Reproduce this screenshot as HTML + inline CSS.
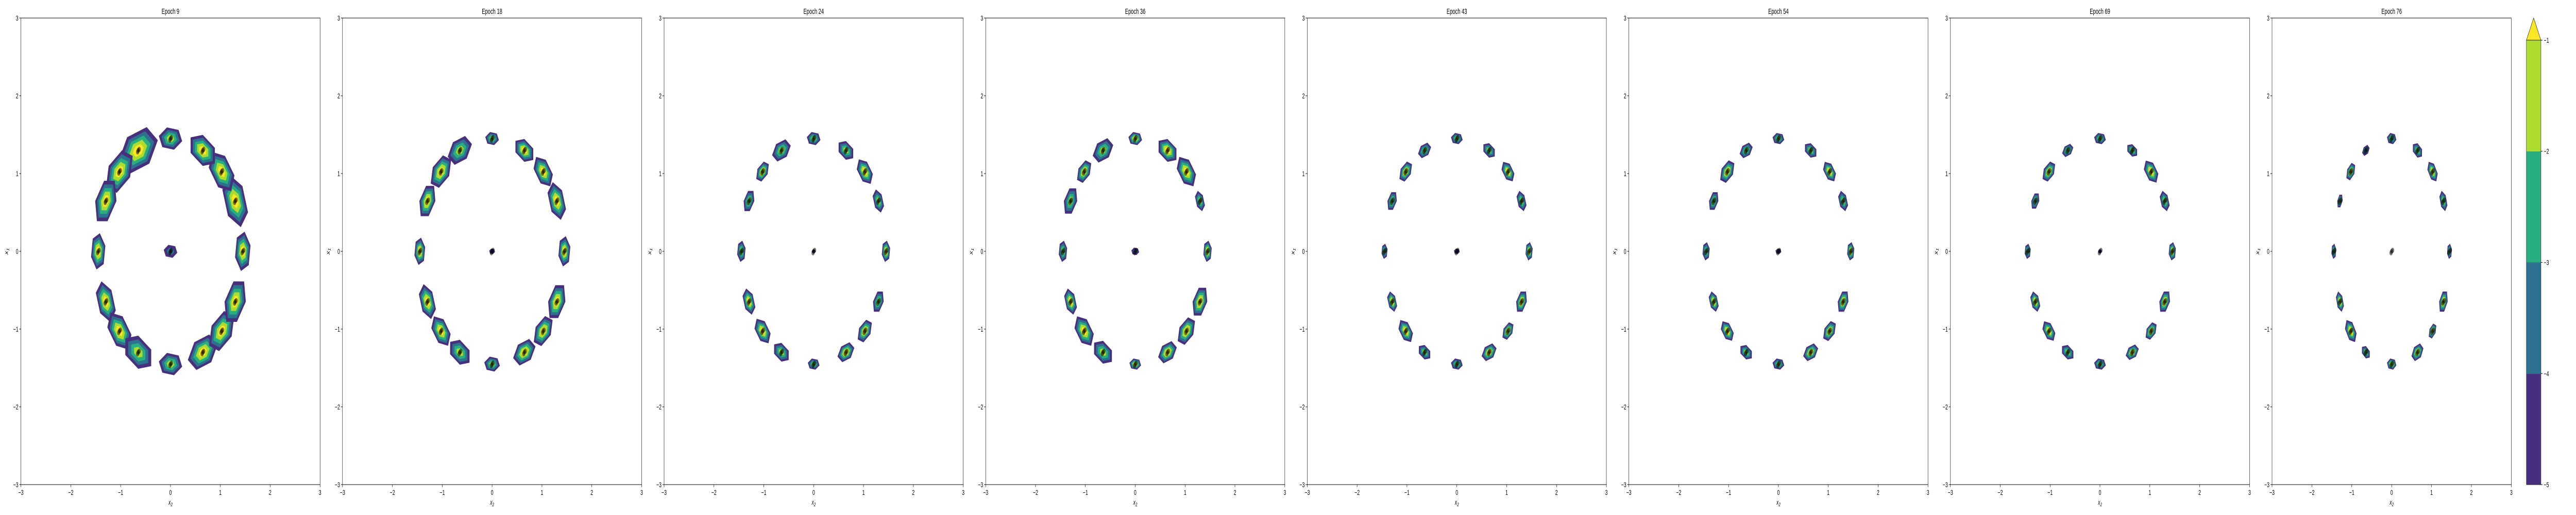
<!DOCTYPE html>
<html><head><meta charset="utf-8">
<style>
html,body{margin:0;padding:0;background:#fff;width:100%;height:100%;overflow:hidden;}
svg{display:block;width:100vw;height:100vh;font-family:"Liberation Sans","DejaVu Sans",sans-serif;}
</style></head>
<body>
<svg id="fig" viewBox="0 0 8000 1000" preserveAspectRatio="none" xmlns="http://www.w3.org/2000/svg"></svg>
<script>
// ---- data ----
const epochs = [9, 18, 24, 36, 43, 54, 69, 76];
const modeAngles = [0, 26.5, 45, 63.5, 90, 116.5, 135, 153.5, 180, 206.5, 225, 243.5, 270, 296.5, 315, 333.5];
const modeRadius = 1.45;
const tickValues = [-3, -2, -1, 0, 1, 2, 3];
const levelValues = [-5, -4, -3, -2, -1];
// blob sizes (data units) per epoch: 16 ring modes followed by centre mode
const sizesE9  = [0.13,0.18,0.16,0.15,0.12,0.21,0.17,0.16,0.12,0.14,0.15,0.16,0.12,0.16,0.16,0.16,0.07];
const sizesE18 = [0.10,0.13,0.12,0.11,0.07,0.13,0.13,0.12,0.09,0.12,0.12,0.12,0.08,0.12,0.12,0.13,0.03];
const sizesE24 = [0.07,0.08,0.10,0.09,0.07,0.10,0.08,0.08,0.07,0.09,0.10,0.09,0.06,0.09,0.09,0.08,0.02];
const sizesE36 = [0.07,0.07,0.12,0.11,0.07,0.11,0.09,0.10,0.07,0.09,0.12,0.11,0.06,0.10,0.11,0.11,0.04];
const sizesE43 = [0.06,0.07,0.08,0.07,0.06,0.07,0.08,0.07,0.05,0.07,0.09,0.07,0.06,0.08,0.07,0.08,0.03];
const sizesE54 = [0.06,0.07,0.08,0.07,0.06,0.07,0.09,0.07,0.06,0.07,0.08,0.07,0.06,0.08,0.08,0.08,0.03];
const sizesE69 = [0.06,0.07,0.09,0.06,0.06,0.06,0.08,0.06,0.05,0.07,0.08,0.07,0.06,0.07,0.07,0.08,0.02];
const sizesE76 = [0.05,0.07,0.08,0.07,0.06,0.05,0.07,0.05,0.05,0.07,0.09,0.06,0.06,0.08,0.06,0.08,0.00];
const peaksE9  = [5,5,5,5,4,5,5,5,5,5,5,4,4,5,5,5,2];
const peaksE18 = [5,5,5,5,4,4,5,5,5,5,5,4,4,5,5,5,1];
const peaksE24 = [5,4,5,4,4,4,5,4,4,5,5,4,4,5,5,4,1];
const peaksE36 = [5,4,5,5,5,4,5,4,4,5,5,4,5,5,5,5,2];
const peaksE43 = [5,4,5,4,4,4,5,4,4,5,5,4,4,5,5,5,1];
const peaksE54 = [5,4,5,4,4,4,5,4,4,5,5,4,4,5,5,5,1];
const peaksE69 = [5,4,5,4,4,4,5,4,4,5,5,4,4,5,5,5,1];
const peaksE76 = [4,4,5,4,4,3,5,4,4,5,5,4,5,5,5,5,0];
const allSizes = [sizesE9,sizesE18,sizesE24,sizesE36,sizesE43,sizesE54,sizesE69,sizesE76];
const allPeaks = [peaksE9,peaksE18,peaksE24,peaksE36,peaksE43,peaksE54,peaksE69,peaksE76];

// ---- style ----
const colors = ['#472f7d','#2c718e','#29af7f','#addc30','#fde725'];
const NS = 'http://www.w3.org/2000/svg';
const svg = document.getElementById('fig');
function mk(tag, attrs, parent){ const e=document.createElementNS(NS,tag); for(const k in attrs) e.setAttribute(k,attrs[k]); (parent||svg).appendChild(e); return e; }
const jitter = [[0,0],[3,-2],[-2,3]];

const panelTop = 35, panelBot = 941;
epochs.forEach((ep, p) => {
  const left = p < 7 ? 65 + p*998.7 : 7056;
  const right = p < 7 ? left + 929 : 7799;
  const xs = v => left + (v + 3) / 6 * (right - left);
  const ys = v => panelBot - (v + 3) / 6 * (panelBot - panelTop);
  const g = mk('g', {});
  
  
  const sizes = allSizes[p], peaks = allPeaks[p];
  const modes = modeAngles.map(a => [modeRadius*Math.cos(a*Math.PI/180), modeRadius*Math.sin(a*Math.PI/180), a]);
  modes.push([0, 0, 90]);
  modes.forEach((m, i) => {
    const s = sizes[i], pk = peaks[i];
    if (s <= 0 || pk <= 0) return;
    for (let k = 0; k < pk; k++) {
      const f = 1 - k / pk * 0.9;
      const rt = s * 2.0 * f, rr = s * 1.25 * f;
      const a = m[2] * Math.PI / 180;
      const pts = [];
      for (let j = 0; j < 6; j++) {
        const t = j / 6 * 2 * Math.PI + 0.3;
        const u = Math.cos(t) * rr, w = Math.sin(t) * rt;
        const dx = u * Math.cos(a) - w * Math.sin(a);
        const dy = u * Math.sin(a) + w * Math.cos(a);
        pts.push(xs(m[0] + dx).toFixed(1) + ',' + ys(m[1] + dy).toFixed(1));
      }
      const poly = mk('polygon', {points: pts.join(' '), fill: colors[k]}, g);
      
      
    }
  });
  modes.forEach(m => {
    jitter.forEach(j => {
      const c = mk('circle', {cx: xs(m[0]) + j[0], cy: ys(m[1]) + j[1], r: 5, fill: '#000', 'fill-opacity': 0.5}, g);
      
      
    });
  });
  const fr = mk('rect', {x: left, y: panelTop, width: right - left, height: panelBot - panelTop, fill: 'none', stroke: '#000', 'stroke-width': 1}, g);
  
  
  tickValues.forEach(v => {
    mk('line', {x1: xs(v), x2: xs(v), y1: panelBot, y2: panelBot + 5, stroke: '#000'}, g);
    const tx = mk('text', {x: xs(v), y: panelBot + 20, 'font-size': 14, 'text-anchor': 'middle'}, g);
    tx.textContent = v < 0 ? '\u2212' + (-v) : String(v);
    
    
    mk('line', {x1: left - 5, x2: left, y1: ys(v), y2: ys(v), stroke: '#000'}, g);
    const ty = mk('text', {x: left - 8, y: ys(v) + 5, 'font-size': 14, 'text-anchor': 'end'}, g);
    ty.textContent = v < 0 ? '\u2212' + (-v) : String(v);
    
    
  });
  const t = mk('text', {x: (left + right) / 2, y: 27, 'font-size': 15, 'text-anchor': 'middle'}, g);
  t.textContent = 'Epoch ' + ep;
  
  
  const xl = mk('text', {x: (left + right) / 2, y: 980, 'font-size': 14, 'font-style': 'italic', 'text-anchor': 'middle'}, g);
  xl.innerHTML = 'x<tspan font-size="10" dy="3">2</tspan>';
  
  
  const yl = mk('text', {x: 0, y: 0, 'font-size': 14, 'font-style': 'italic', 'text-anchor': 'middle', transform: 'translate(' + (left - 40) + ',' + ((panelTop + panelBot) / 2) + ') rotate(-90)'}, g);
  yl.innerHTML = 'x<tspan font-size="10" dy="3">1</tspan>';
  
  
});

// ---- colorbar ----
const cb = mk('g', {});


const cbL = 7846, cbR = 7891, cbTop = 78, cbBot = 941;
const cy = v => cbBot - (v - levelValues[0]) / (levelValues[levelValues.length-1] - levelValues[0]) * (cbBot - cbTop);
for (let i = 0; i < levelValues.length - 1; i++) {
  const r = mk('rect', {x: cbL, y: cy(levelValues[i+1]), width: cbR - cbL, height: cy(levelValues[i]) - cy(levelValues[i+1]), fill: colors[i]}, cb);
  
  
}
const tri = mk('polygon', {points: cbL + ',' + cbTop + ' ' + ((cbL + cbR) / 2) + ',35 ' + cbR + ',' + cbTop, fill: colors[4], stroke: '#222', 'stroke-width': 1}, cb);


mk('rect', {x: cbL, y: cbTop, width: cbR - cbL, height: cbBot - cbTop, fill: 'none', stroke: '#222', 'stroke-width': 1}, cb);
levelValues.forEach(v => {
  mk('line', {x1: cbR, x2: cbR + 5, y1: cy(v), y2: cy(v), stroke: '#000'}, cb);
  const t = mk('text', {x: cbR + 9, y: cy(v) + 5, 'font-size': 14}, cb);
  t.textContent = '\u2212' + (-v);
  
  
});
</script>
</body></html>
